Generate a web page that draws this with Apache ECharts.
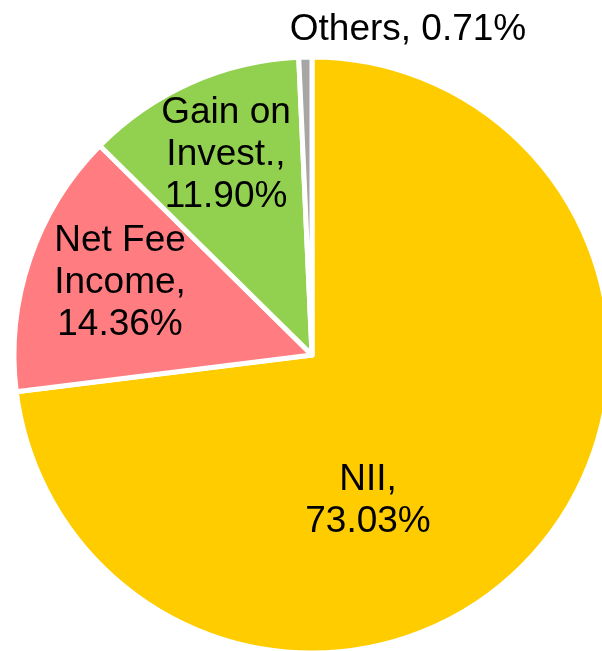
<!DOCTYPE html>
<html>
<head>
<meta charset="utf-8">
<script src="https://cdn.jsdelivr.net/npm/echarts@6/dist/echarts.min.js"></script>
<style>html,body{margin:0;padding:0;background:#fff}#c{width:602px;height:651px}</style>
</head>
<body>
<div id="c"></div>
<script>
const categories = ["NII", "Net Fee Income", "Gain on Invest.", "Others"];
const values = [73.03, 14.36, 11.90, 0.71];
const labelTexts = ["NII,\n73.03%", "Net Fee\nIncome,\n14.36%", "Gain on\nInvest.,\n11.90%", "Others, 0.71%"];
const colors = ["#FFCC00", "#FF7C80", "#92D050", "#A6A6A6"];
const labelPos = [[368, 501], [120, 283], [226, 155], [408, 30]];

const chart = echarts.init(document.getElementById('c'));
chart.setOption({
  animation: false,
  series: [{
    type: 'pie',
    center: [312, 355],
    radius: [0, 298],
    startAngle: 90,
    clockwise: true,
    avoidLabelOverlap: false,
    itemStyle: { borderColor: '#fff', borderWidth: 5 },
    label: {
      show: true,
      position: 'inside',
      color: '#000',
      fontFamily: 'Liberation Sans, Arial, sans-serif',
      fontSize: 37,
      lineHeight: 42,
      align: 'center',
      formatter: p => labelTexts[p.dataIndex]
    },
    labelLine: { show: false },
    labelLayout: p => ({ x: labelPos[p.dataIndex][0], y: labelPos[p.dataIndex][1], align: 'center', verticalAlign: 'middle' }),
    data: categories.map((c, i) => ({ name: c, value: values[i], itemStyle: { color: colors[i] } }))
  }]
});
</script>
</body>
</html>
